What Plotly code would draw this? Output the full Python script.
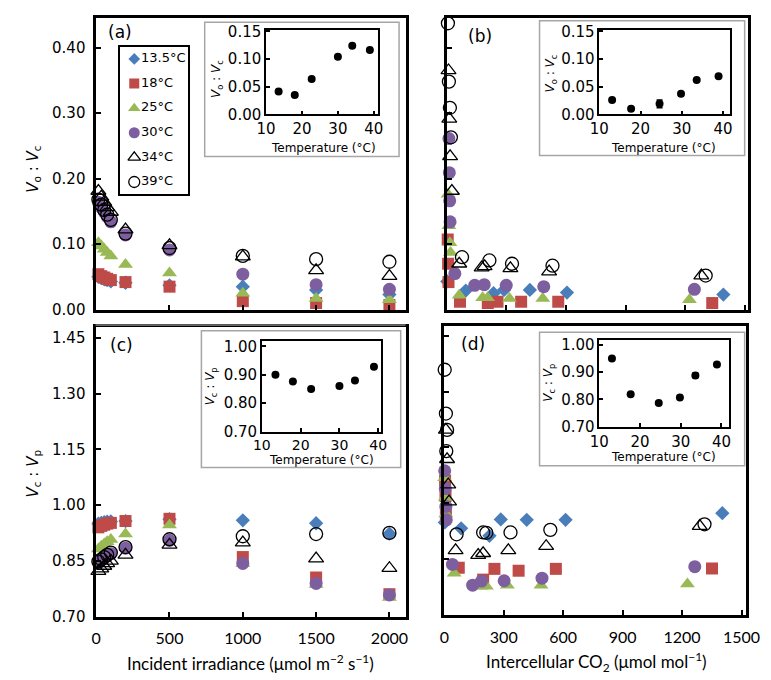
import plotly.graph_objects as go

W, H = 771, 680

# ---------------- data ----------------
temp_labels = ["13.5°C", "18°C", "25°C", "30°C", "34°C", "39°C"]

# panel (a) and (c): incident irradiance levels
irradiance = [15, 35, 55, 75, 100, 200, 500, 1000, 1500, 2000]

a_13 = [0.050, 0.048, 0.046, 0.045, 0.043, 0.041, 0.037, 0.035, 0.030, 0.023]
a_18 = [0.054, 0.051, 0.049, 0.047, 0.045, 0.042, 0.035, 0.013, 0.010, 0.007]
a_25 = [0.102, 0.097, 0.092, 0.087, 0.082, 0.069, 0.056, 0.025, 0.017, 0.015]
a_30 = [0.164, 0.156, 0.149, 0.142, 0.134, 0.114, 0.091, 0.054, 0.038, 0.031]
a_34 = [0.181, 0.172, 0.164, 0.156, 0.149, 0.122, 0.098, 0.081, 0.060, 0.051]
a_39 = [0.168, 0.160, 0.152, 0.145, 0.137, 0.116, 0.094, 0.082, 0.077, 0.073]

c_13 = [0.950, 0.952, 0.954, 0.955, 0.956, 0.957, 0.962, 0.959, 0.951, 0.923]
c_18 = [0.940, 0.944, 0.947, 0.950, 0.952, 0.957, 0.963, 0.860, 0.805, 0.760]
c_25 = [0.882, 0.889, 0.895, 0.901, 0.907, 0.922, 0.946, 0.843, 0.786, 0.751]
c_30 = [0.845, 0.851, 0.857, 0.863, 0.869, 0.884, 0.905, 0.843, 0.789, 0.758]
c_34 = [0.822, 0.829, 0.836, 0.843, 0.850, 0.866, 0.893, 0.899, 0.856, 0.830]
c_39 = [0.848, 0.854, 0.860, 0.866, 0.872, 0.887, 0.908, 0.916, 0.922, 0.925]

# panel (b): intercellular CO2 vs Vo:Vc
b_x_13 = [2, 95, 235, 288, 418, 605, 1393]
b_y_13 = [0.043, 0.029, 0.025, 0.030, 0.030, 0.026, 0.023]
b_x_18 = [4, 6, 8, 66, 206, 255, 374, 561, 1337]
b_y_18 = [0.107, 0.070, 0.042, 0.012, 0.010, 0.012, 0.012, 0.012, 0.010]
b_x_25 = [6, 10, 15, 18, 62, 180, 205, 315, 483, 1222]
b_y_25 = [0.176, 0.128, 0.102, 0.087, 0.022, 0.018, 0.018, 0.017, 0.017, 0.015]
b_x_30 = [10, 12, 14, 16, 40, 140, 188, 299, 488, 1247]
b_y_30 = [0.261, 0.209, 0.166, 0.134, 0.055, 0.037, 0.038, 0.037, 0.035, 0.031]
b_x_34 = [8, 12, 16, 25, 62, 175, 190, 320, 515, 1282]
b_y_34 = [0.365, 0.291, 0.234, 0.181, 0.070, 0.064, 0.066, 0.063, 0.058, 0.052]
b_x_39 = [5, 10, 15, 20, 76, 214, 328, 532, 1304]
b_y_39 = [0.437, 0.348, 0.308, 0.263, 0.080, 0.075, 0.070, 0.067, 0.052]

# panel (d): intercellular CO2 vs Vc:Vp
d_x_13 = [3, 85, 228, 285, 416, 612, 1403]
d_y_13 = [0.948, 0.932, 0.912, 0.956, 0.955, 0.955, 0.973]
d_x_18 = [4, 6, 8, 73, 196, 253, 375, 563, 1351]
d_y_18 = [1.061, 1.019, 0.973, 0.826, 0.794, 0.823, 0.818, 0.823, 0.824]
d_x_25 = [2, 5, 8, 50, 182, 212, 318, 488, 1227]
d_y_25 = [1.068, 1.015, 0.971, 0.811, 0.776, 0.776, 0.779, 0.779, 0.782]
d_x_30 = [2, 5, 8, 10, 41, 143, 188, 302, 493, 1264]
d_y_30 = [1.087, 1.039, 0.991, 0.955, 0.835, 0.779, 0.790, 0.791, 0.798, 0.829]
d_x_34 = [8, 14, 20, 24, 57, 171, 196, 323, 514, 1289]
d_y_34 = [1.197, 1.118, 1.050, 1.004, 0.873, 0.860, 0.865, 0.873, 0.884, 0.938]
d_x_39 = [2, 8, 14, 10, 62, 196, 212, 334, 535, 1313]
d_y_39 = [1.359, 1.241, 1.197, 1.140, 0.916, 0.921, 0.920, 0.921, 0.928, 0.943]

# insets
inset_temp_irr = [13.5, 18, 22.7, 30, 34, 38.9]
inset_a = [0.041, 0.035, 0.064, 0.104, 0.124, 0.116]
inset_c = [0.900, 0.876, 0.850, 0.860, 0.880, 0.928]
inset_temp_co2 = [13.1, 17.7, 24.6, 29.8, 33.6, 38.9]
inset_b = [0.026, 0.010, 0.019, 0.037, 0.062, 0.069]
inset_b_err = [0.002, 0.002, 0.007, 0.003, 0.002, 0.002]
inset_d = [0.950, 0.819, 0.787, 0.807, 0.888, 0.928]
inset_d_err = [0.005, 0.003, 0.004, 0.007, 0.009, 0.003]

# ---------------- helpers / styles ----------------
def fx(x):
    return x / W

def fy(y):
    return 1 - y / H

styles = [
    dict(symbol="diamond", color="#4A7EBB", size=11),
    dict(symbol="square", color="#BE4B48", size=12),
    dict(symbol="triangle-up", color="#98B954", size=13),
    dict(symbol="circle", color="#7D5FA0", size=13),
    dict(symbol="triangle-up-open", color="black", size=13, line=dict(width=1.3, color="black")),
    dict(symbol="circle-open", color="black", size=13, line=dict(width=1.3, color="black")),
]

fig = go.Figure()

a_series = [a_13, a_18, a_25, a_30, a_34, a_39]
c_series = [c_13, c_18, c_25, c_30, c_34, c_39]
b_series = [(b_x_13, b_y_13), (b_x_18, b_y_18), (b_x_25, b_y_25),
            (b_x_30, b_y_30), (b_x_34, b_y_34), (b_x_39, b_y_39)]
d_series = [(d_x_13, d_y_13), (d_x_18, d_y_18), (d_x_25, d_y_25),
            (d_x_30, d_y_30), (d_x_34, d_y_34), (d_x_39, d_y_39)]

for i, lab in enumerate(temp_labels):
    st = styles[i]
    fig.add_trace(go.Scatter(x=irradiance, y=a_series[i], mode="markers", marker=st, cliponaxis=False,
                             name=lab, xaxis="x", yaxis="y", showlegend=False))
    fig.add_trace(go.Scatter(x=b_series[i][0], y=b_series[i][1], mode="markers", marker=st, cliponaxis=False,
                             name=lab, xaxis="x2", yaxis="y2", showlegend=False))
    fig.add_trace(go.Scatter(x=irradiance, y=c_series[i], mode="markers", marker=st, cliponaxis=False,
                             name=lab, xaxis="x3", yaxis="y3", showlegend=False))
    fig.add_trace(go.Scatter(x=d_series[i][0], y=d_series[i][1], mode="markers", marker=st, cliponaxis=False,
                             name=lab, xaxis="x4", yaxis="y4", showlegend=False))

# insets
dot = dict(symbol="circle", color="black", size=8)
err_style = dict(type="data", thickness=1.5, width=3, color="black")
fig.add_trace(go.Scatter(x=inset_temp_irr, y=inset_a, mode="markers", marker=dot,
                         xaxis="x5", yaxis="y5", showlegend=False))
fig.add_trace(go.Scatter(x=inset_temp_co2, y=inset_b, mode="markers", marker=dot,
                         error_y=dict(array=inset_b_err, **err_style),
                         xaxis="x6", yaxis="y6", showlegend=False))
fig.add_trace(go.Scatter(x=inset_temp_irr, y=inset_c, mode="markers", marker=dot,
                         xaxis="x7", yaxis="y7", showlegend=False))
fig.add_trace(go.Scatter(x=inset_temp_co2, y=inset_d, mode="markers", marker=dot,
                         error_y=dict(array=inset_d_err, **err_style),
                         xaxis="x8", yaxis="y8", showlegend=False))

# custom legend box (own little axis in pixel units)
legend_rows = list(range(len(temp_labels)))
for i in legend_rows:
    lst = dict(styles[i])
    lst["size"] = lst["size"] - 2
    fig.add_trace(go.Scatter(x=[15], y=[12.7 + 25.2 * i], mode="markers", marker=lst,
                             xaxis="x9", yaxis="y9", showlegend=False, hoverinfo="skip"))
fig.add_trace(go.Scatter(x=[22] * len(temp_labels), y=[12.7 + 25.2 * i for i in legend_rows],
                         mode="text", text=temp_labels, textposition="middle right",
                         textfont=dict(family="DejaVu Sans", size=13, color="black"),
                         xaxis="x9", yaxis="y9", showlegend=False, hoverinfo="skip"))

# ---------------- axes ----------------
tick_font_y = dict(family="DejaVu Sans", size=15, color="black")
tick_font_x = dict(family="Lato", size=16, color="black")
main_ax = dict(showline=True, linecolor="black", linewidth=2.5, mirror=True,
               ticks="inside", ticklen=5, tickwidth=2, tickcolor="black",
               showgrid=False, zeroline=False)
inset_ax = dict(showline=True, linecolor="black", linewidth=1.5, mirror=True,
                ticks="inside", ticklen=4, tickwidth=1.5, tickcolor="black",
                showgrid=False, zeroline=False,
                tickfont=dict(family="DejaVu Sans", size=15, color="black"))
inset_xfont_low = dict(family="DejaVu Sans", size=14, color="black")

irr_ticks = [0, 500, 1000, 1500, 2000]
co2_ticks = [0, 300, 600, 900, 1200, 1500]
voc_ticks = [0.0, 0.1, 0.2, 0.3, 0.4]
vcp_ticks = [0.70, 0.85, 1.00, 1.15, 1.30, 1.45]

layout = dict(
    width=W, height=H, margin=dict(l=0, r=0, t=0, b=0),
    paper_bgcolor="white", plot_bgcolor="rgba(0,0,0,0)", showlegend=False,
    xaxis=dict(main_ax, domain=[fx(80.7), fx(400)], range=[0, 2110], tickvals=irr_ticks,
               showticklabels=False, anchor="y"),
    yaxis=dict(main_ax, domain=[fy(301.7), fy(2.7)], range=[0, 0.4456], tickvals=voc_ticks,
               tickformat=".2f", tickfont=tick_font_y, ticklabelstandoff=5, anchor="x"),
    xaxis2=dict(main_ax, domain=[fx(442.7), fx(753)], range=[0, 1515], tickvals=co2_ticks,
                showticklabels=False, anchor="y2"),
    yaxis2=dict(main_ax, domain=[fy(301.7), fy(2.7)], range=[0, 0.4456], tickvals=voc_ticks,
                showticklabels=False, anchor="x2"),
    xaxis3=dict(main_ax, domain=[fx(80.7), fx(400)], range=[0, 2110], tickvals=irr_ticks,
                tickfont=tick_font_x, ticklabelstandoff=6, anchor="y3"),
    yaxis3=dict(main_ax, domain=[fy(616), fy(320)], range=[0.70, 1.478], tickvals=vcp_ticks,
                tickformat=".2f", tickfont=tick_font_y, ticklabelstandoff=5, anchor="x3"),
    xaxis4=dict(main_ax, domain=[fx(440), fx(751.7)], range=[0, 1524], tickvals=co2_ticks,
                tickfont=tick_font_x, ticklabelstandoff=6, anchor="y4"),
    yaxis4=dict(main_ax, domain=[fy(614), fy(318)], range=[0.70, 1.478], tickvals=vcp_ticks,
                showticklabels=False, anchor="x4"),
    xaxis5=dict(inset_ax, domain=[fx(256), fx(371.7)], range=[10, 41.2], tickvals=[10, 20, 30, 40], anchor="y5"),
    yaxis5=dict(inset_ax, domain=[fy(101.7), fy(15)], range=[0, 0.153], tickvals=[0, 0.05, 0.10, 0.15],
                tickformat=".2f", anchor="x5"),
    xaxis6=dict(inset_ax, domain=[fx(600), fx(735)], range=[10, 41.7], tickvals=[10, 20, 30, 40], anchor="y6"),
    yaxis6=dict(inset_ax, domain=[fy(101.7), fy(15)], range=[0, 0.153], tickvals=[0, 0.05, 0.10, 0.15],
                tickformat=".2f", anchor="x6"),
    xaxis7=dict(inset_ax, domain=[fx(251.7), fx(375)], range=[10, 40.8], tickvals=[10, 20, 30, 40],
                tickfont=inset_xfont_low, ticklabelstandoff=0, anchor="y7"),
    yaxis7=dict(inset_ax, domain=[fy(426.7), fy(334)], range=[0.70, 1.018], tickvals=[0.70, 0.80, 0.90, 1.00],
                tickformat=".2f", anchor="x7"),
    xaxis8=dict(inset_ax, domain=[fx(600), fx(734)], range=[10, 41.9], tickvals=[10, 20, 30, 40], anchor="y8"),
    yaxis8=dict(inset_ax, domain=[fy(421.7), fy(332.7)], range=[0.70, 1.018], tickvals=[0.70, 0.80, 0.90, 1.00],
                tickformat=".2f", anchor="x8"),
    xaxis9=dict(domain=[fx(105), fx(175)], range=[0, 70], showline=True, mirror=True, linecolor="black",
                linewidth=1.5, showticklabels=False, ticks="", showgrid=False, zeroline=False,
                fixedrange=True, anchor="y9"),
    yaxis9=dict(domain=[fy(183.3), fy(32.3)], range=[151, 0], showline=True, mirror=True, linecolor="black",
                linewidth=1.5, showticklabels=False, ticks="", showgrid=False, zeroline=False,
                fixedrange=True, anchor="x9"),
)
fig.update_layout(**layout)

# inset frames
boxes = [(192.7, 7.3, 393.3, 145), (538.3, 6, 750, 144),
         (189.3, 323.3, 395, 463.3), (538.3, 325, 750, 461.7)]
for (x0, y0, x1, y1) in boxes:
    fig.add_shape(type="rect", xref="paper", yref="paper", x0=fx(x0), x1=fx(x1), y0=fy(y1), y1=fy(y0),
                  line=dict(color="#A6A6A6", width=1.5), fillcolor="rgba(0,0,0,0)", layer="below")
# thin grey frame line between the upper and lower left panels
fig.add_shape(type="line", xref="paper", yref="paper", x0=fx(80), x1=fx(400), y0=fy(317.5), y1=fy(317.5),
              line=dict(color="#BFBFBF", width=1))

# annotations
vo_vc = "<i>V</i><sub>o</sub> : <i>V</i><sub>c</sub>"
vc_vp = "<i>V</i><sub>c</sub> : <i>V</i><sub>p</sub>"
ann = []

def add_text(text, x, y, size, family="DejaVu Sans", angle=0):
    ann.append(dict(text=text, x=fx(x), y=fy(y), xref="paper", yref="paper", showarrow=False,
                    xanchor="center", yanchor="middle", textangle=angle,
                    font=dict(family=family, size=size, color="black")))

add_text(vo_vc, 16, 158, 15, angle=-90)
add_text(vc_vp, 16, 470, 15, angle=-90)
add_text("(a)", 105, 17, 17)
add_text("(b)", 477, 21.7, 17)
add_text("(c)", 107, 338.3, 17)
add_text("(d)", 469.3, 336.7, 17)
add_text("Incident irradiance (μmol m<sup>−2</sup> s<sup>−1</sup>)", 240, 663, 17, family="Lato")
add_text("Intercellular CO<sub>2</sub> (μmol mol<sup>−1</sup>)", 597, 663, 17, family="Lato")
add_text(vo_vc, 206, 66, 12, angle=-90)
add_text(vo_vc, 550, 60, 12, angle=-90)
add_text(vc_vp, 199.5, 380, 12, angle=-90)
add_text(vc_vp, 548, 376.7, 12, angle=-90)
add_text("Temperature (°C)", 315, 136, 12)
add_text("Temperature (°C)", 665.8, 136, 12)
add_text("Temperature (°C)", 313.3, 456, 12)
add_text("Temperature (°C)", 665.8, 452.5, 12)
fig.update_layout(annotations=ann)

fig.write_html("out.html")
